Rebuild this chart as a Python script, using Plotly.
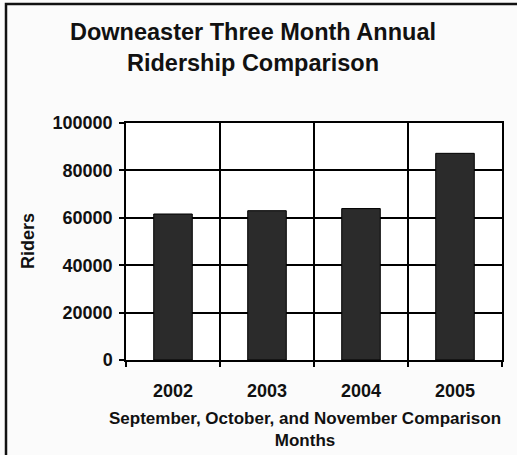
import plotly.graph_objects as go

years = ["2002", "2003", "2004", "2005"]
riders = [61600, 63000, 63900, 87200]
y_ticks = [0, 20000, 40000, 60000, 80000, 100000]

FONT = "Liberation Sans, Arial, Helvetica, sans-serif"

fig = go.Figure()
fig.add_trace(go.Bar(
    x=years, y=riders, width=0.41,
    marker=dict(color="#2b2b2b", line=dict(color="#000000", width=1)),
    showlegend=False,
))

W, H = 517, 455
L, R, T, B = 126, 15, 123, 95
pw, ph = W - L - R, H - T - B

def px(x):
    return (x - L) / pw

def py(y):
    return (H - B - y) / ph

fig.update_layout(
    width=W, height=H,
    margin=dict(l=L, r=R, t=T, b=B),
    paper_bgcolor="#fbfbfb", plot_bgcolor="#ffffff",
    font=dict(family=FONT, color="#111111"),
    title=dict(
        text="<b>Downeaster Three Month Annual<br>Ridership Comparison</b>",
        x=253 / W, xanchor="center", y=1 - 40 / H, yanchor="middle",
        font=dict(size=23.5, color="#111111"),
    ),
    xaxis=dict(
        type="category", showline=True, linecolor="#000", linewidth=1.5,
        showgrid=True, gridcolor="#000", gridwidth=1.5,
        tickson="boundaries", ticks="outside", ticklen=5, tickcolor="#000", tickwidth=1.5,
        tickfont=dict(size=18, family=FONT, color="#111", weight="bold"),
        ticklabelstandoff=14, mirror=True,
    ),
    yaxis=dict(
        range=[0, 100000], tickvals=y_ticks, tickformat="d",
        showline=True, linecolor="#000", linewidth=1.5,
        showgrid=True, gridcolor="#000", gridwidth=1.5,
        ticks="outside", ticklen=5, tickcolor="#000", tickwidth=1.5,
        tickfont=dict(size=18, family=FONT, color="#111", weight="bold"),
        ticklabelstandoff=3, zeroline=False, mirror=True,
    ),
    annotations=[
        dict(text="<b>Riders</b>", textangle=-90, xref="paper", yref="paper",
             x=px(28), y=py(241), xanchor="center", yanchor="middle",
             showarrow=False, font=dict(size=18, family=FONT, color="#111")),
        dict(text="<b>September, October, and November Comparison<br>Months</b>",
             xref="paper", yref="paper", x=px(305), y=py(429),
             xanchor="center", yanchor="middle", showarrow=False,
             font=dict(size=17, family=FONT, color="#111")),
    ],
    shapes=[
        dict(type="rect", xref="paper", yref="paper",
             x0=px(6), x1=px(530), y0=py(470), y1=py(4),
             line=dict(color="#111", width=2.5), fillcolor="rgba(0,0,0,0)", layer="below"),
    ],
)

fig.write_html("out.html", config={"displayModeBar": False},
               post_script="document.body.style.margin='0';")
